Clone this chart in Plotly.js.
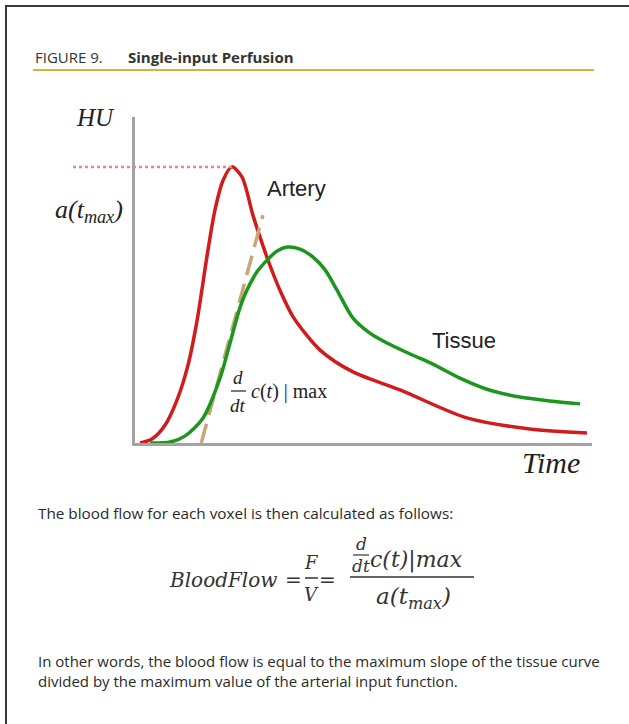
<!DOCTYPE html>
<html><head><meta charset="utf-8">
<script src="https://cdn.plot.ly/plotly-3.0.1.min.js"></script>
<style>html,body{margin:0;padding:0;background:#fff;}#chart{width:629px;height:724px;}</style>
</head><body><div id="chart"></div>
<script>
// ---- data (time and HU in arbitrary units) ----
const arteryTime = [1.1, 3.7, 6.6, 9.2, 11.6, 13.6, 15.8, 17.5, 19.3, 21.2, 23.4, 25.8, 27.8, 29.5, 31.7, 34.6, 40.5, 47.7, 58.0, 72.6, 86.4, 98.9];
const arteryHU   = [0, 1.2, 5.5, 13.2, 23.9, 37.7, 57.7, 71.5, 80.7, 84.7, 81.6, 69.9, 61.3, 54.6, 46.9, 38.7, 28.5, 21.8, 16.3, 7.7, 4.3, 3.1];
const tissueTime = [3.3, 7.7, 10.9, 14.9, 18.6, 20.8, 23.0, 24.5, 26.7, 28.9, 31.1, 33.3, 36.1, 38.9, 41.6, 44.2, 47.7, 51.4, 54.3, 60.2, 65.2, 71.1, 77.0, 84.2, 90.8, 97.4];
const tissueHU   = [0, 0.3, 2.1, 7.7, 19.9, 30.7, 41.7, 46.9, 52.5, 56.1, 58.9, 60.1, 59.5, 57.1, 53.1, 46.9, 38.3, 33.7, 31.3, 27.3, 24.2, 19.9, 16.5, 14.1, 12.9, 12.0];
const slopeTime  = [14.5, 28.0];
const slopeHU    = [0, 69.9];
const peakLineStart = -13.57;
const peakHU = Math.max(...arteryHU);
const peakTime = arteryTime[arteryHU.indexOf(peakHU)];

const W = 629, H = 724;
const px = v => v / W, py = v => 1 - v / H;

const traces = [
  {x: [peakLineStart, peakTime], y: [peakHU, peakHU], xaxis: 'x2', yaxis: 'y2', mode: 'lines',
   line: {color: '#e08a8a', width: 2.5, dash: 'dot'}, hoverinfo: 'skip'},
  {x: arteryTime, y: arteryHU, mode: 'lines', line: {color: '#d01c1c', width: 3.5, shape: 'spline', smoothing: 0.8}, hoverinfo: 'skip'},
  {x: slopeTime, y: slopeHU, mode: 'lines', line: {color: '#c9a679', width: 3.5, dash: '20px,9px'}, hoverinfo: 'skip'},
  {x: tissueTime, y: tissueHU, mode: 'lines', line: {color: '#1c961c', width: 3.5, shape: 'spline', smoothing: 0.8}, hoverinfo: 'skip'}
];

const axStyle = {showline: true, linecolor: '#a3a3a3', linewidth: 3, showgrid: false, zeroline: false,
  ticks: '', showticklabels: false, fixedrange: true};

const serif = 'Liberation Serif';
const sans = 'Open Sans';
const annotations = [];
function ann(text, x, y, o) {
  o = o || {};
  annotations.push({text: text, x: px(x), y: py(y), xref: 'paper', yref: 'paper', showarrow: false,
    xanchor: o.xanchor || 'center', yanchor: 'middle',
    font: {family: o.family || sans, size: o.size || 15, color: o.color || '#2b2b2b', style: o.style || 'normal'}});
}
// header
ann('FIGURE 9.', 33, 57, {xanchor: 'left', size: 15, color: '#333'});
ann('<b>Single-input Perfusion</b>', 126, 57, {xanchor: 'left', size: 15, color: '#333'});
// chart labels
ann('HU', 95, 118, {family: serif, size: 25, style: 'italic', color: '#222'});
ann('a(t<sub>max</sub>)', 89, 211, {family: serif, size: 26, style: 'italic', color: '#222'});
ann('Artery', 296, 188, {family: 'Liberation Sans', size: 22, color: '#222'});
ann('Tissue', 464, 340, {family: 'Liberation Sans', size: 22, color: '#222'});
ann('d', 238, 377, {family: serif, size: 19, style: 'italic', color: '#222'});
ann('dt', 238, 405, {family: serif, size: 19, style: 'italic', color: '#222'});
ann('<i>c</i>(<i>t</i>) | max', 249, 392, {xanchor: 'left', family: serif, size: 20, color: '#222'});
ann('Time', 551, 462, {family: serif, size: 30, style: 'italic', color: '#222'});
// text
ann('The blood flow for each voxel is then calculated as follows:', 36, 513, {xanchor: 'left', size: 15.3, color: '#2a2a2a'});
ann('BloodFlow', 223, 580, {family: 'DejaVu Serif', size: 20, style: 'italic', color: '#333'});
ann('=', 293, 580, {family: 'DejaVu Serif', size: 20, color: '#333'});
ann('F', 311, 562, {family: 'DejaVu Serif', size: 18, style: 'italic', color: '#333'});
ann('V', 311, 594, {family: 'DejaVu Serif', size: 18, style: 'italic', color: '#333'});
ann('=', 327, 580, {family: 'DejaVu Serif', size: 20, color: '#333'});
ann('d', 361, 544, {family: 'DejaVu Serif', size: 17, style: 'italic', color: '#333'});
ann('dt', 361, 566, {family: 'DejaVu Serif', size: 17, style: 'italic', color: '#333'});
ann('c(t)|max', 368, 560, {xanchor: 'left', family: 'DejaVu Serif', size: 22, style: 'italic', color: '#333'});
ann('a(t<sub>max</sub>)', 413, 598, {family: 'DejaVu Serif', size: 23, style: 'italic', color: '#333'});
ann('In other words, the blood flow is equal to the maximum slope of the tissue curve', 36, 661, {xanchor: 'left', size: 15, color: '#2a2a2a'});
ann('divided by the maximum value of the arterial input function.', 36, 681, {xanchor: 'left', size: 15, color: '#2a2a2a'});

function seg(x0, y0, x1, y1, color, width) {
  return {type: 'line', xref: 'paper', yref: 'paper', x0: px(x0), y0: py(y0), x1: px(x1), y1: py(y1),
    line: {color: color, width: width}};
}
const shapes = [
  seg(5, 6, 629, 6, '#3a3a3a', 2),
  seg(6, 5, 6, 724, '#3a3a3a', 2),
  seg(33, 70, 594, 70, '#c9b83c', 2),
  seg(231, 391, 246, 391, '#222', 1.2),
  seg(305, 578, 318, 578, '#333', 1.5),
  seg(353, 555, 369, 555, '#333', 1.2),
  seg(350, 577, 474, 577, '#333', 1.5)
];

const layout = {
  width: W, height: H, margin: {l: 0, r: 0, t: 0, b: 0},
  paper_bgcolor: '#fff', plot_bgcolor: 'rgba(0,0,0,0)', showlegend: false,
  xaxis: Object.assign({domain: [135 / W, 592 / W], range: [0, 100], anchor: 'y'}, axStyle),
  yaxis: Object.assign({domain: [py(443), py(117)], range: [0, 100], anchor: 'x'}, axStyle),
  xaxis2: {domain: [73 / W, 592 / W], range: [peakLineStart, 100], anchor: 'y2', visible: false, fixedrange: true},
  yaxis2: {domain: [py(443), py(117)], range: [0, 100], anchor: 'x2', visible: false, fixedrange: true},
  annotations: annotations, shapes: shapes
};
Plotly.newPlot('chart', traces, layout, {displayModeBar: false, staticPlot: true});
</script></body></html>
